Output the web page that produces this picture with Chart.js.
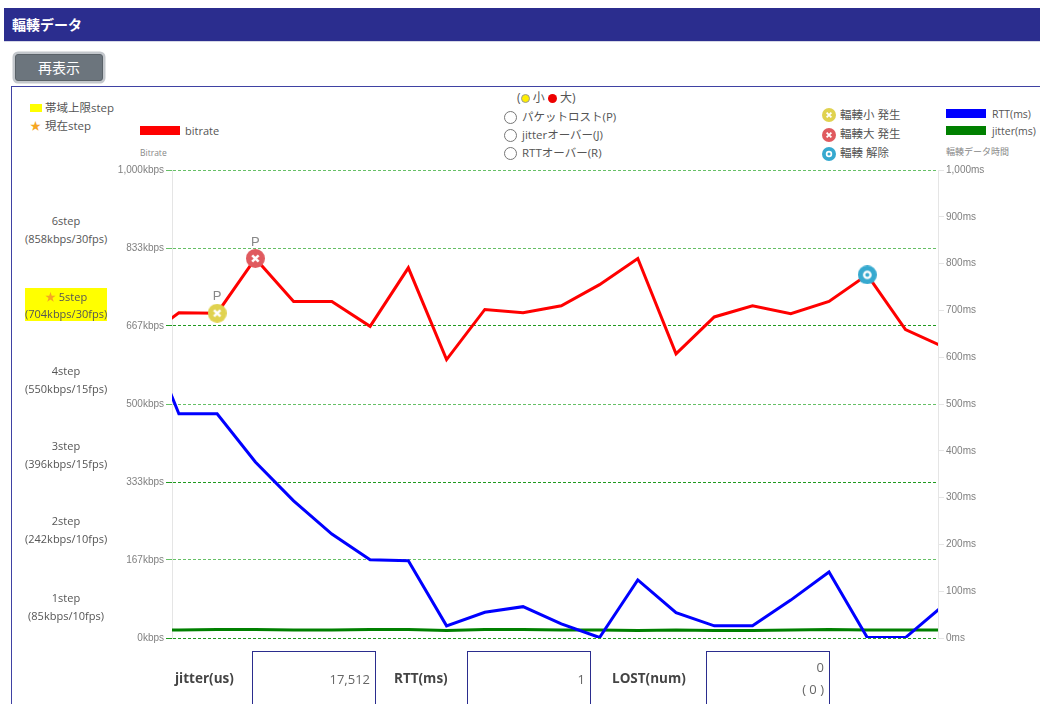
<!DOCTYPE html>
<html lang="ja">
<head>
<meta charset="utf-8">
<title>輻輳データ</title>
<script src="https://cdn.jsdelivr.net/npm/chart.js@4/dist/chart.umd.min.js"></script>
<style>
  html, body { margin: 0; padding: 0; width: 1040px; height: 704px; overflow: hidden; background: #fff; }
  body { position: relative; font-family: "Open Sans", "Noto Sans CJK JP", sans-serif; font-size: 11px; color: #555; }
  .abs { position: absolute; white-space: nowrap; line-height: 14px; }
  .ja { font-size: 11.5px; }
  .nr { font-size: 10.5px; }
  #header { position: absolute; left: 4px; top: 8px; width: 1036px; height: 34px; background: #2b2d8e; border-bottom: 1px solid #d5d7e6; box-sizing: border-box; color: #fff; font-weight: bold; font-size: 14px; line-height: 33px; padding-left: 8px; }
  #btn { position: absolute; left: 15px; top: 54px; width: 88px; height: 27px; box-sizing: border-box; background: #6c757d; color: #fff; border: 1px solid #5a6268; border-radius: 3px; box-shadow: 0 0 0 2.5px #c3c7cc; font-size: 14px; line-height: 25px; text-align: center; }
  #box { position: absolute; left: 11px; top: 86px; width: 1040px; height: 640px; border: 1px solid #3f42a3; box-sizing: border-box; }
  #chart { position: absolute; left: 0; top: 0; }
  .swatch { position: absolute; }
  .step { position: absolute; left: 25px; width: 82px; text-align: center; line-height: 18px; }
  .step.now { background: #ffff00; top: 288px; height: 33px; line-height: 17px; }
  .star { color: #f5a623; }
  .radio { position: absolute; left: 504px; width: 13px; height: 13px; border: 1px solid #777; border-radius: 50%; box-sizing: border-box; background: #fff; }
  .dot { display: inline-block; width: 9px; height: 9px; border-radius: 50%; vertical-align: -1px; }
  .cell { position: absolute; top: 651px; width: 124px; height: 70px; border: 1px solid #2b2d8e; box-sizing: border-box; text-align: right; padding-right: 5px; font-size: 13px; line-height: 21px; padding-top: 17px; color: #666; }
  .lab { position: absolute; top: 670px; font-weight: bold; font-size: 13.5px; line-height: 16px; color: #444; }
  .tiny { font-size: 8.5px; color: #888; }
</style>
</head>
<body>
<div id="header">輻輳データ</div>
<div id="btn">再表示</div>
<div id="box"></div>

<div class="swatch" style="left:30px;top:104px;width:12px;height:8px;background:#ffff00"></div>
<div class="abs ja" style="left:45px;top:101px">帯域上限step</div>
<div class="abs star" style="left:30px;top:119px">★</div>
<div class="abs ja" style="left:45px;top:119px">現在step</div>
<div class="swatch" style="left:140px;top:126px;width:40px;height:9px;background:#ff0000"></div>
<div class="abs" style="left:185px;top:124px">bitrate</div>
<div class="abs tiny" style="left:140px;top:146px">Bitrate</div>

<div class="abs" style="left:517px;top:91px;font-size:12px">(<span class="dot" style="background:#ffee00;border:1px solid #999;box-sizing:border-box"></span> 小 <span class="dot" style="background:#ee0000"></span> 大)</div>
<div class="radio" style="top:111px"></div><div class="abs ja" style="left:522px;top:110px">パケットロスト(P)</div>
<div class="radio" style="top:129px"></div><div class="abs ja" style="left:522px;top:128px">jitterオーバー(J)</div>
<div class="radio" style="top:147px"></div><div class="abs ja" style="left:522px;top:146px">RTTオーバー(R)</div>

<canvas id="lg1" class="swatch" width="14" height="14" style="left:822px;top:108px"></canvas><div class="abs ja" style="left:840px;top:108px">輻輳小 発生</div>
<canvas id="lg2" class="swatch" width="14" height="14" style="left:822px;top:128px"></canvas><div class="abs ja" style="left:840px;top:127px">輻輳大 発生</div>
<canvas id="lg3" class="swatch" width="14" height="14" style="left:822px;top:147px"></canvas><div class="abs ja" style="left:840px;top:146px">輻輳 解除</div>

<div class="swatch" style="left:946px;top:109px;width:40px;height:9px;background:#0000ff"></div>
<div class="abs nr" style="left:992px;top:107px">RTT(ms)</div>
<div class="swatch" style="left:946px;top:126px;width:40px;height:9px;background:#008000"></div>
<div class="abs nr" style="left:992px;top:124px">jitter(ms)</div>
<div class="abs tiny" style="left:946px;top:145px;font-size:9px">輻輳データ時間</div>

<div id="steps"></div>

<canvas id="chart" width="1040" height="704"></canvas>

<div class="lab" style="left:175px">jitter(us)</div>
<div class="cell" style="left:252px">17,512</div>
<div class="lab" style="left:394px">RTT(ms)</div>
<div class="cell" style="left:467px">1</div>
<div class="lab" style="left:612px">LOST(num)</div>
<div class="cell" style="left:706px;padding-top:4px;line-height:22px">0<br>( 0 )</div>

<script>
// 時間軸 (先頭と末尾の点はグラフの外にはみ出す)
const times = [-1,0,1,2,3,4,5,6,7,8,9,10,11,12,13,14,15,16,17,18,19,20]
const bitrate = [633,695,694,811,719,719,666,791,595,702,695,710,755,811,607,686,710,693,719,776,659,622]
const rtt = [682,479,479,376,293,222,167,165,26,55,67,30,1,124,54,26,26,81,141,1,1,70]
const jitter = [17,17,18,18,17,17,18,18,16,18,18,17,17,16,17,16,16,17,18,17,17,17]

// 軸の目盛り
const kbpsTicks = [0,167,333,500,667,833,1000]
const msTicks = [0,100,200,300,400,500,600,700,800,900,1000]
const darkGrid = [0,333,667]

// 輻輳イベント (times の添字)
const smallIdx = [2]
const largeIdx = [3]
const clearIdx = [19]
const lostIdx = [2,3]

const stepNames = ['6step','5step','4step','3step','2step','1step']
const stepInfo = ['(858kbps/30fps)','(704kbps/30fps)','(550kbps/15fps)','(396kbps/15fps)','(242kbps/10fps)','(85kbps/10fps)']
const stepTops = [212,288,362,437,512,589]

const stepsDom = document.getElementById('steps')
stepNames.forEach((name, i) => {
    const d = document.createElement('div')
    d.className = i == 1 ? 'step now' : 'step'
    d.style.top = stepTops[i] + 'px'
    d.innerHTML = (i == 1 ? '<span class="star">★</span> ' : '') + name + '<br>' + stepInfo[i]
    stepsDom.appendChild(d)
})

// 輻輳アイコン
function paintMarker(c, size, color, kind){
    const r = size / 2
    c.fillStyle = color
    c.beginPath()
    c.arc(r, r, r, 0, Math.PI * 2)
    c.fill()
    c.strokeStyle = '#fff'
    if(kind == 'clear'){
        c.lineWidth = size * 0.12
        c.beginPath()
        c.arc(r, r, size * 0.17, 0, Math.PI * 2)
        c.stroke()
    }else{
        const a = size * 0.17
        c.lineWidth = size * 0.13
        c.beginPath()
        c.moveTo(r - a, r - a)
        c.lineTo(r + a, r + a)
        c.moveTo(r + a, r - a)
        c.lineTo(r - a, r + a)
        c.stroke()
    }
}
function makeMarker(color, kind){
    const cv = document.createElement('canvas')
    cv.width = 19
    cv.height = 19
    paintMarker(cv.getContext('2d'), 19, color, kind)
    return cv
}
const markerSmall = makeMarker('#e0d24f', 'small')
const markerLarge = makeMarker('#e05a5f', 'large')
const markerClear = makeMarker('#36a9cf', 'clear')
paintMarker(document.getElementById('lg1').getContext('2d'), 14, '#e0d24f', 'small')
paintMarker(document.getElementById('lg2').getContext('2d'), 14, '#e05a5f', 'large')
paintMarker(document.getElementById('lg3').getContext('2d'), 14, '#36a9cf', 'clear')

function toPoints(values){
    return values.map((v, i) => ({x: times[i], y: v}))
}

// P の文字
const lostLabels = {
    id: 'lostLabels',
    afterDatasetsDraw(chart){
        const c = chart.ctx
        const pts = chart.getDatasetMeta(0).data
        c.save()
        c.font = '13px "Liberation Sans"'
        c.fillStyle = '#888'
        c.textAlign = 'center'
        c.textBaseline = 'bottom'
        lostIdx.forEach(i => c.fillText('P', pts[i].x, pts[i].y - 10))
        c.restore()
    }
}

const tickFont = {family: '"Liberation Sans"', size: 10}

new Chart(document.getElementById('chart'), {
    type: 'line',
    data: {
        datasets: [
            {
                label: 'bitrate',
                data: toPoints(bitrate),
                yAxisID: 'yKbps',
                borderColor: '#ff0000',
                borderWidth: 3,
                pointStyle: ctx => smallIdx.includes(ctx.dataIndex) ? markerSmall : largeIdx.includes(ctx.dataIndex) ? markerLarge : markerClear,
                pointRadius: ctx => (smallIdx.includes(ctx.dataIndex) || largeIdx.includes(ctx.dataIndex) || clearIdx.includes(ctx.dataIndex)) ? 10 : 0
            },
            {
                label: 'RTT(ms)',
                data: toPoints(rtt),
                yAxisID: 'yMs',
                borderColor: '#0000ff',
                borderWidth: 3,
                pointRadius: 0
            },
            {
                label: 'jitter(ms)',
                data: toPoints(jitter),
                yAxisID: 'yMs',
                borderColor: '#008000',
                borderWidth: 3,
                pointRadius: 0
            }
        ]
    },
    options: {
        responsive: false,
        animation: false,
        events: [],
        layout: {padding: {top: 170, bottom: 66, left: 0, right: 0}},
        plugins: {legend: {display: false}, title: {display: false}, tooltip: {enabled: false}},
        scales: {
            x: {type: 'linear', display: false, min: -0.18, max: 19.85},
            yKbps: {
                position: 'left',
                min: 0,
                max: 1000,
                afterFit: s => { s.width = 172 },
                afterBuildTicks: s => { s.ticks = kbpsTicks.map(v => ({value: v})) },
                grid: {
                    color: ctx => darkGrid.includes(ctx.tick.value) ? '#1f9a1f' : '#66c066',
                    tickLength: 6,
                    lineWidth: 1
                },
                border: {color: '#e5e5e5', dash: [3, 2]},
                ticks: {
                    font: tickFont,
                    color: '#808080',
                    padding: 2,
                    callback: v => v.toLocaleString('en-US') + 'kbps'
                }
            },
            yMs: {
                position: 'right',
                min: 0,
                max: 1000,
                afterFit: s => { s.width = 102 },
                afterBuildTicks: s => { s.ticks = msTicks.map(v => ({value: v})) },
                grid: {drawOnChartArea: false, color: '#e5e5e5', tickLength: 6},
                border: {color: '#e5e5e5'},
                ticks: {
                    font: tickFont,
                    color: '#808080',
                    padding: 2,
                    callback: v => v.toLocaleString('en-US') + 'ms'
                }
            }
        }
    },
    plugins: [lostLabels]
})
</script>
</body>
</html>
